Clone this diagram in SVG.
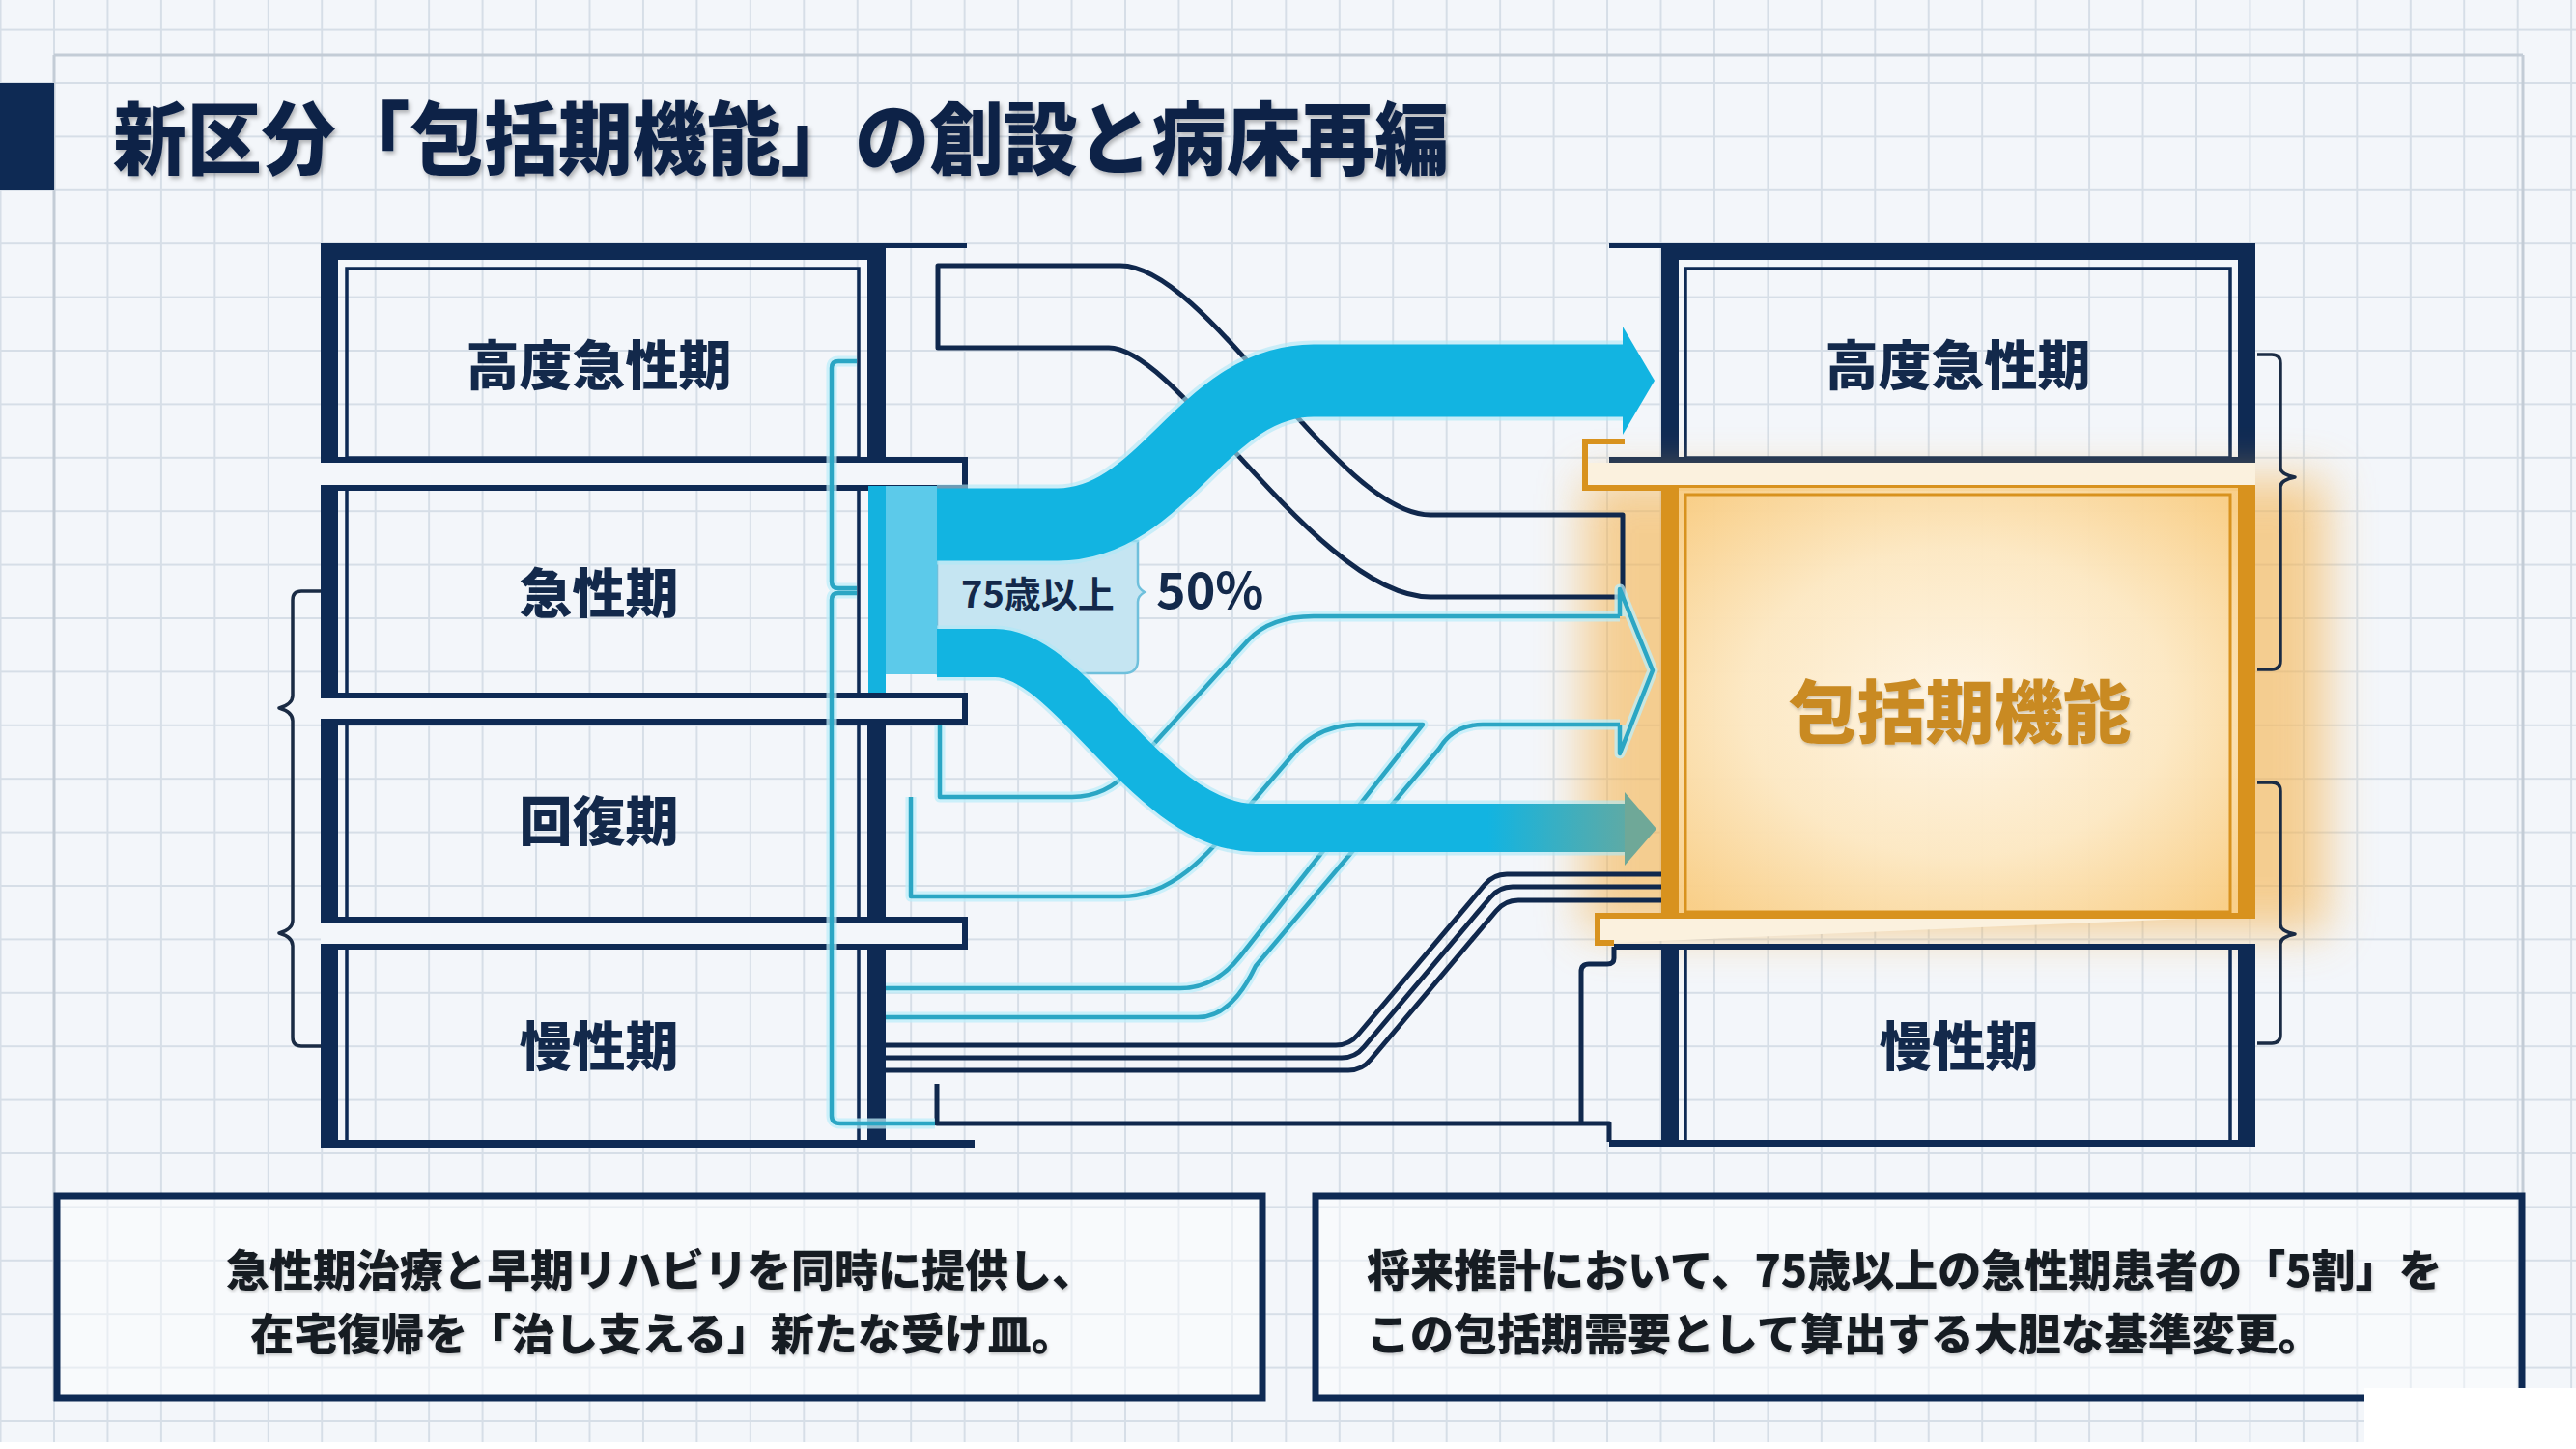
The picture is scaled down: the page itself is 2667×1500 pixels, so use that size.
<svg xmlns="http://www.w3.org/2000/svg" width="2667" height="1500" viewBox="0 0 2667 1500">
<defs>
<pattern id="grid" x="55" y="29.6" width="55.45" height="55.4" patternUnits="userSpaceOnUse">
<path d="M0,1 H55.45 M1,0 V55.4" stroke="#d6dee7" stroke-width="2" fill="none"/>
</pattern>
<radialGradient id="orangeFill" cx="50%" cy="50%" r="65%">
<stop offset="0" stop-color="#fff9ee"/>
<stop offset="0.55" stop-color="#fdebc9"/>
<stop offset="1" stop-color="#f9cf88"/>
</radialGradient>
<linearGradient id="lowArrow" x1="1540" y1="0" x2="1716" y2="0" gradientUnits="userSpaceOnUse">
<stop offset="0" stop-color="#12b4e1"/>
<stop offset="1" stop-color="#6fa898"/>
</linearGradient>
<filter id="blur" x="-30%" y="-30%" width="160%" height="160%">
<feGaussianBlur stdDeviation="24"/>
</filter>
<filter id="shadow" x="-5%" y="-20%" width="110%" height="150%">
<feDropShadow dx="2" dy="3" stdDeviation="2" flood-color="#000" flood-opacity="0.28"/>
</filter>
<filter id="soft" x="-5%" y="-20%" width="110%" height="150%">
<feDropShadow dx="1" dy="2" stdDeviation="1.5" flood-color="#000" flood-opacity="0.2"/>
</filter>
</defs>
<style>
.wall{fill:#0e2a54;}
.owall{fill:#d8921e;}
.thin{fill:none;stroke:#0e2a54;stroke-width:3.5;}
.othin{fill:none;stroke:#d8921e;stroke-width:3;}
.slab{fill:#f3f6fa;stroke:#0e2a54;stroke-width:6;}
.brace{fill:none;stroke:#1a2b44;stroke-width:3.5;stroke-linejoin:round;}
.lbl{font-family:'Noto Sans CJK JP','Noto Sans',sans-serif;font-weight:900;fill:#13294b;text-anchor:middle;}
.body{font-family:'Noto Sans CJK JP','Noto Sans',sans-serif;font-weight:900;fill:#151a22;font-size:45px;}
.tealGlow{fill:none;stroke:#bdeefa;stroke-width:11;stroke-opacity:0.75;stroke-linejoin:round;}
.teal{fill:none;stroke:#2ba6c4;stroke-width:4.5;stroke-linejoin:round;}
.pipe{fill:none;stroke:#10284d;stroke-width:5;stroke-linejoin:round;}
</style>

<rect x="0" y="0" width="2667" height="1500" fill="#f3f6fa"/>
<rect x="0" y="0" width="2667" height="1500" fill="url(#grid)"/>
<path d="M56,57 H2612 M56,57 V1450 M2612,57 V1450" fill="none" stroke="#c3ccd6" stroke-width="3"/>

<g id="title">
<rect x="0" y="86" width="56" height="111" fill="#0e2a54"/>
<text x="117" y="174" font-family="'Noto Sans CJK JP','Noto Sans',sans-serif" font-weight="900" font-size="82" fill="#102347" textLength="1383" lengthAdjust="spacingAndGlyphs" filter="url(#shadow)">新区分「包括期機能」の創設と病床再編</text>
</g>

<g id="left-building">
<g id="left-room-1">
<rect class="wall" x="332" y="252" width="585" height="17"/>
<rect class="wall" x="917" y="252" width="84" height="5"/>
<rect class="wall" x="332" y="252" width="18" height="227"/>
<rect class="wall" x="898" y="252" width="19" height="227"/>
<rect class="thin" x="359" y="278" width="530" height="196"/>
<text class="lbl" x="620" y="398" font-size="55">高度急性期</text>
</g>
<path class="slab" d="M332,476 H999 V505 H332"/>
<g id="left-room-2">
<rect class="wall" x="332" y="505" width="18" height="215"/>
<rect x="899" y="503" width="18" height="214" fill="#14b2df"/>
<path class="thin" d="M359,508 V717 M889,508 V717"/>
<text class="lbl" x="620" y="634" font-size="55">急性期</text>
</g>
<path class="slab" d="M332,720 H999 V747 H332"/>
<g id="left-room-3">
<rect class="wall" x="332" y="747" width="18" height="205"/>
<rect class="wall" x="898" y="747" width="19" height="205"/>
<path class="thin" d="M359,750 V952 M889,750 V952"/>
<text class="lbl" x="620" y="870" font-size="55">回復期</text>
</g>
<path class="slab" d="M332,952 H999 V980 H332"/>
<g id="left-room-4">
<rect class="wall" x="332" y="980" width="18" height="208"/>
<rect class="wall" x="898" y="980" width="19" height="208"/>
<rect class="wall" x="332" y="1180" width="677" height="8"/>
<path class="thin" d="M359,983 V1181 M889,983 V1181"/>
<text class="lbl" x="620" y="1103" font-size="55">慢性期</text>
</g>
<path class="brace" d="M332,612 H312 Q303,612 303,621 V720 Q303,729 289,733 Q303,737 303,746 V953 Q303,962 289,966 Q303,970 303,979 V1074 Q303,1083 312,1083 H332"/>
</g>

<g id="right-building">
<g id="right-room-1">
<rect class="wall" x="1720" y="252" width="615" height="17"/>
<rect class="wall" x="1666" y="252" width="54" height="5"/>
<rect class="wall" x="1720" y="252" width="18" height="227"/>
<rect class="wall" x="2317" y="252" width="18" height="227"/>
<rect class="wall" x="1666" y="473" width="669" height="6"/>
<rect class="thin" x="1745" y="278" width="564" height="196"/>
<text class="lbl" x="2027" y="398" font-size="55">高度急性期</text>
</g>
<rect x="1640" y="495" width="770" height="470" fill="#f6b24c" opacity="0.6" filter="url(#blur)"/>
<rect x="1642" y="479" width="693" height="26" fill="#fbf1de"/>
<path d="M1682,457 H1641 V505 H2335" fill="none" stroke="#d8921e" stroke-width="6"/>
<g id="hokatsu-room">
<rect x="1720" y="505" width="615" height="445" fill="url(#orangeFill)" opacity="0.92"/>
<rect class="owall" x="1720" y="505" width="18" height="445"/>
<rect class="owall" x="2317" y="505" width="18" height="445"/>
<rect class="othin" x="1745" y="512" width="564" height="432"/>
<text x="2029" y="763" font-family="'Noto Sans CJK JP','Noto Sans',sans-serif" font-weight="900" font-size="71" fill="#c98a22" text-anchor="middle" filter="url(#soft)">包括期機能</text>
</g>
<path d="M2335,948 H1654 V976 H1671" fill="#fbf1de" stroke="#d8921e" stroke-width="6"/>
<g id="right-room-4">
<rect class="wall" x="1671" y="977" width="664" height="6"/>
<rect class="wall" x="1720" y="977" width="18" height="210"/>
<rect class="wall" x="2317" y="977" width="18" height="210"/>
<rect class="wall" x="1666" y="1180" width="669" height="7"/>
<path class="thin" d="M1745,983 V1181 M2309,983 V1181"/>
<text class="lbl" x="2028" y="1103" font-size="55">慢性期</text>
</g>
<path class="brace" d="M2337,367 H2352 Q2361,367 2361,376 V484 Q2361,491 2376,494 Q2361,497 2361,504 V684 Q2361,693 2352,693 H2337"/>
<path class="brace" d="M2337,810 H2352 Q2361,810 2361,819 V957 Q2361,964 2376,967 Q2361,970 2361,977 V1071 Q2361,1080 2352,1080 H2337"/>
</g>

<g id="connectors">
<path class="pipe" d="M1160,275 H971 V360 H1148 C1220,360 1365,618 1481,618 H1680 V533 H1481 C1385,533 1250,275 1160,275"/>
<path class="pipe" d="M970,1122 V1163 H1666 V1182"/>
<path class="pipe" stroke-width="3.5" d="M1671,980 V992 Q1671,998 1664,998 H1645 Q1637,998 1637,1006 V1163"/>
<path class="pipe" stroke-width="4" d="M917,1082 H1383 Q1397,1082 1406,1071 L1537,916 Q1546,905 1560,905 H1720"/>
<path class="pipe" stroke-width="4" d="M917,1095 H1389 Q1403,1095 1412,1084 L1543,929 Q1552,918 1566,918 H1720"/>
<path class="pipe" stroke-width="4" d="M917,1108 H1396 Q1410,1108 1419,1097 L1549,943 Q1558,932 1572,932 H1720"/>

<g id="teal-lines">
<path class="tealGlow" d="M887,374 H868 Q861,374 861,381 V602 Q861,609 868,609 H887 M887,614 H868 Q861,614 861,621 V1155 Q861,1163 870,1163 H968"/>
<path class="tealGlow" d="M973,750 V825 H1110 Q1145,825 1170,797 L1292,663 Q1315,638 1360,638 H1677"/>
<path class="tealGlow" d="M943,825 V928 H1160 C1215,928 1250,885 1290,838 L1338,782 Q1363,751 1405,750 H1473 L1284,990 Q1258,1023 1222,1023 H917"/>
<path class="tealGlow" d="M917,1053 H1240 Q1275,1053 1300,1000 L1490,775 Q1505,750 1535,750 H1677"/>
<path class="tealGlow" d="M1677,638 V610 L1711,694 L1677,780 V750"/>
<path class="teal" stroke-width="3.5" d="M887,374 H868 Q861,374 861,381 V602 Q861,609 868,609 H887 M887,614 H868 Q861,614 861,621 V1155 Q861,1163 870,1163 H968"/>
<path class="teal" d="M973,750 V825 H1110 Q1145,825 1170,797 L1292,663 Q1315,638 1360,638 H1677"/>
<path class="teal" d="M943,825 V928 H1160 C1215,928 1250,885 1290,838 L1338,782 Q1363,751 1405,750 H1473 L1284,990 Q1258,1023 1222,1023 H917"/>
<path class="teal" d="M917,1053 H1240 Q1275,1053 1300,1000 L1490,775 Q1505,750 1535,750 H1677"/>
<path class="teal" stroke="#4fa7b4" d="M1677,638 V610 L1711,694 L1677,780 V750"/>
</g>

<path d="M970,560 H1178 V603 Q1178,609 1185,613 Q1178,617 1178,623 V683 Q1178,697 1164,697 H970 Z" fill="#c5e5f2" stroke="#6fc0dc" stroke-width="2.5"/>
<rect x="917" y="503" width="53" height="195" fill="#5ccaea"/>

<g id="flow-bands">
<path d="M970,543 H1095 C1205,543 1245,394 1360,394 H1682" fill="none" stroke="#aee7f7" stroke-width="83" stroke-opacity="0.6"/>
<path d="M970,676 H1030 C1110,676 1190,857 1300,857 H1684" fill="none" stroke="#aee7f7" stroke-width="57" stroke-opacity="0.6"/>
<path d="M970,543 H1095 C1205,543 1245,394 1360,394 H1682" fill="none" stroke="#12b4e1" stroke-width="75"/>
<polygon points="1680,338 1713,394 1680,450" fill="#12b4e1"/>
<path d="M970,676 H1030 C1110,676 1190,857 1300,857 H1684" fill="none" stroke="url(#lowArrow)" stroke-width="50"/>
<polygon points="1682,820 1715,858 1682,896" fill="#6fa898"/>
</g>

<text x="995" y="629" font-family="'Noto Sans CJK JP','Noto Sans',sans-serif" font-weight="700" font-size="38" fill="#13294b">75歳以上</text>
<text x="1197" y="630" font-family="'Noto Sans CJK JP','Noto Sans',sans-serif" font-weight="700" font-size="52" fill="#13294b">50%</text>
</g>

<g id="note-left">
<rect x="59" y="1238" width="1248" height="209" fill="#ffffff" fill-opacity="0.45" stroke="#0e2a54" stroke-width="7"/>
<text class="body" x="684" y="1332" text-anchor="middle" filter="url(#soft)">急性期治療と早期リハビリを同時に提供し、</text>
<text class="body" x="686" y="1398" text-anchor="middle" filter="url(#soft)">在宅復帰を「治し支える」新たな受け皿。</text>
</g>
<g id="note-right">
<rect x="1362" y="1238" width="1249" height="209" fill="#ffffff" fill-opacity="0.45" stroke="#0e2a54" stroke-width="7"/>
<text class="body" x="1415" y="1332" filter="url(#soft)">将来推計において、75歳以上の急性期患者の「5割」を</text>
<text class="body" x="1415" y="1398" filter="url(#soft)">この包括期需要として算出する大胆な基準変更。</text>
</g>
<rect x="2447" y="1437" width="220" height="63" fill="#ffffff"/>
<rect x="0" y="1493" width="2667" height="7" fill="#ffffff"/>
</svg>
